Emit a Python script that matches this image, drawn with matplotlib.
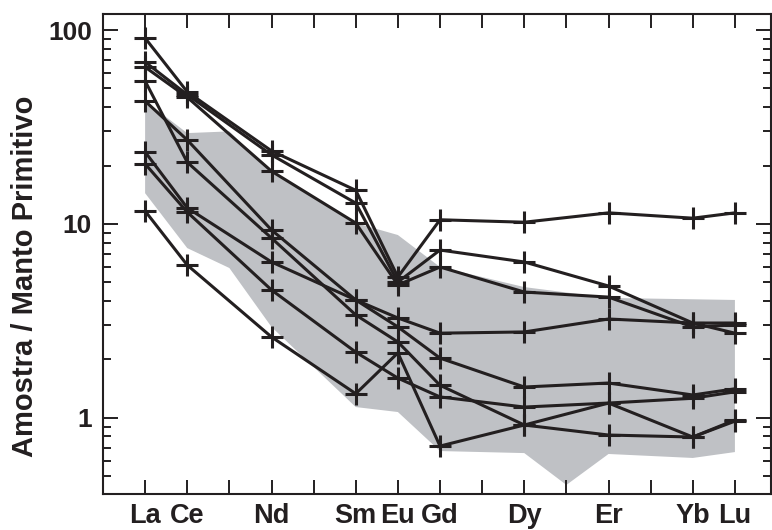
import matplotlib
matplotlib.use("Agg")
import matplotlib.pyplot as plt
from matplotlib.ticker import FixedLocator, LogLocator, NullFormatter

plt.rcParams['font.family'] = ['Liberation Sans', 'DejaVu Sans']
plt.rcParams['font.weight'] = 'bold'

INK = '#231f20'
FIELD = '#bfc1c5'

# elements (REE) and their atomic numbers used as x positions
elements = ['La', 'Ce', 'Nd', 'Sm', 'Eu', 'Gd', 'Dy', 'Er', 'Yb', 'Lu']
z_num = [57, 58, 60, 62, 63, 64, 66, 68, 70, 71]

# samples normalised to primitive mantle
s1 = [90.9, 48.0, 23.8, 14.9, 5.32, 10.5, 10.2, 11.4, 10.7, 11.4]
s2 = [68.4, 46.4, 22.7, 12.8, 5.01, 7.33, 6.36, 4.78, 3.08, 2.73]
s3 = [64.4, 45.0, 18.7, 10.1, 4.84, 5.99, 4.45, 4.19, 2.94, 3.01]
s4 = [54.6, 20.8, 8.45, 3.39, 2.46, 1.47, 0.917, 0.814, 0.795, 0.973]
s5 = [43.0, 27.1, 9.30, 4.05, 3.27, 2.73, 2.77, 3.23, 3.08, 3.08]
s6 = [23.5, 12.1, 6.36, 4.05, 2.94, 2.03, 1.44, 1.51, 1.31, 1.41]
s7 = [20.4, 11.5, 4.56, 2.18, 1.60, 1.28, 1.135, 1.19, 1.26, 1.36]
s8 = [11.65, 6.13, 2.61, 1.33, 2.16, 0.714, 0.917, 1.19, 0.795, 0.96]
samples = [s1, s2, s3, s4, s5, s6, s7, s8]

# reference field (grey envelope)
field_top_z = [57, 58, 59, 60, 62, 63, 64, 66, 68, 71]
field_top = [43.0, 29.4, 30.0, 18.5, 10.1, 8.76, 5.99, 4.72, 4.15, 4.05]
field_bot_z = [71, 70, 68, 67, 66, 64, 63, 62, 60, 59, 58, 57]
field_bot = [0.665, 0.62, 0.65, 0.45, 0.657, 0.673, 1.07, 1.135, 2.94, 5.92, 7.5, 14.4]

fig = plt.figure(figsize=(7.72, 5.30), dpi=100)
ax = fig.add_axes([0.1334, 0.0679, 0.8655, 0.9057])

ax.fill(field_top_z + field_bot_z, field_top + field_bot, color=FIELD, lw=0, zorder=1)

for s in samples:
    ax.plot(z_num, s, color=INK, lw=2.2, marker='+', ms=16, mew=2.2, zorder=3)

ax.set_yscale('log')
ax.set_xlim(56, 71.86)
ax.set_ylim(0.404, 121)

# ticks
all_z = list(range(57, 72))
ax.xaxis.set_major_locator(FixedLocator(all_z))
ax.set_xticklabels([elements[z_num.index(z)] if z in z_num else '' for z in all_z])
ax.yaxis.set_major_locator(LogLocator(base=10))
ax.yaxis.set_minor_locator(LogLocator(base=10, subs=range(2, 10)))
ax.yaxis.set_minor_formatter(NullFormatter())
ax.set_yticks([1, 10, 100])
ax.set_yticklabels(['1', '10', '100'])

ax.tick_params(axis='x', which='major', direction='in', length=10, width=1.4,
               top=True, bottom=True, labelsize=19.5, pad=6.5, color=INK, labelcolor=INK)
ax.tick_params(axis='y', which='major', direction='in', length=11, width=1.4,
               left=True, right=True, labelsize=19, pad=8, color=INK, labelcolor=INK)
ax.tick_params(axis='y', which='minor', direction='in', length=6, width=1.4,
               left=True, right=True, color=INK)

for sp in ax.spines.values():
    sp.set_linewidth(1.5)
    sp.set_color(INK)

fig.text(0.032, 0.479, 'Amostra / Manto Primitivo', rotation=90, fontsize=21,
         fontweight='bold', color=INK, ha='center', va='center')

fig.savefig('out.png', dpi=100)
